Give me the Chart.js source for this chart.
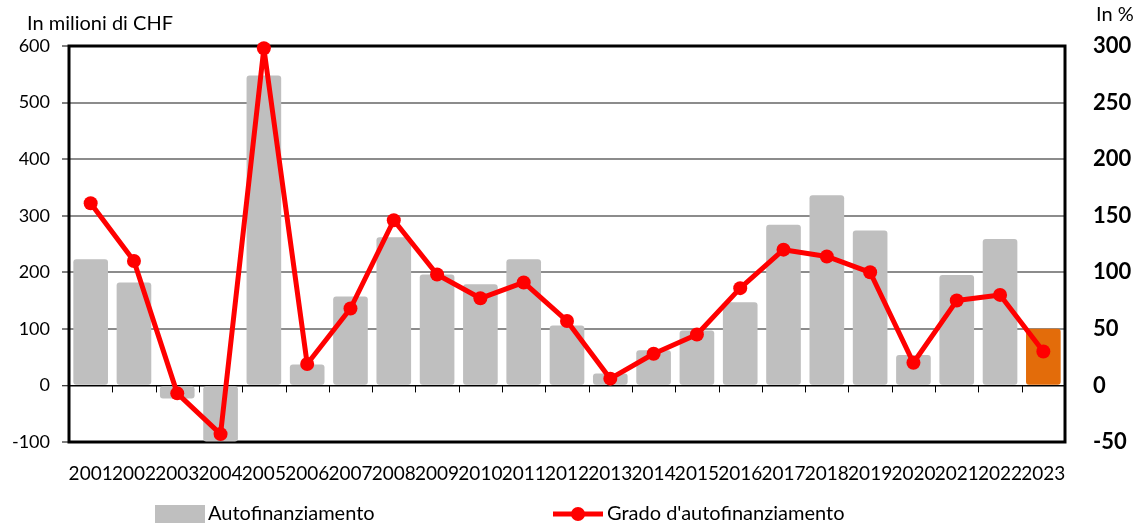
<!DOCTYPE html>
<html><head><meta charset="utf-8">
<script src="https://cdn.jsdelivr.net/npm/chart.js@4.4.0/dist/chart.umd.min.js"></script>
<style>html,body{margin:0;padding:0;background:#fff;overflow:hidden}#wrap{width:1137px;height:523px;position:relative}</style>
</head><body><div id="wrap"><canvas id="c" width="1137" height="523"></canvas></div>
<script>
const years = ['2001','2002','2003','2004','2005','2006','2007','2008','2009','2010','2011','2012','2013','2014','2015','2016','2017','2018','2019','2020','2021','2022','2023'];
const autofinanziamento = [223, 182, -23, -99, 548, 37, 157, 262, 196, 179, 223, 106, 21, 62, 97, 147, 284, 336, 274, 54, 195, 259, 100];
const grado = [161, 110, -7, -43, 298, 19, 68, 146, 98, 77, 91, 57, 6, 28, 45, 86, 120, 114, 100, 20, 75, 80, 30];
const leftAxis = {min: -100, max: 600, step: 100};
const rightAxis = {min: -50, max: 300, step: 50};
const leftTitle = 'In milioni di CHF';
const rightTitle = 'In %';
const barLabel = 'Autofinanziamento';
const lineLabel = "Grado d'autofinanziamento";

const FONT = 'Lato, "Open Sans", sans-serif';
const GRAY = '#bfbfbf';
const ORANGE = '#e36c0a';
const RED = '#ff0000';
const barColors = years.map((y, i) => i === years.length - 1 ? ORANGE : GRAY);

const decor = {
  id: 'decor',
  beforeDatasetsDraw(chart) {
    const {ctx, chartArea: a, scales} = chart;
    const x = scales.x, y = scales.y;
    const zy = y.getPixelForValue(0);
    ctx.save();
    ctx.strokeStyle = '#000';
    ctx.lineWidth = 1;
    for (let i = 1; i < years.length; i++) {
      const px = Math.round((x.getPixelForTick(i - 1) + x.getPixelForTick(i)) / 2) + 0.5;
      ctx.beginPath(); ctx.moveTo(px, zy); ctx.lineTo(px, zy + 7); ctx.stroke();
    }
    ctx.lineWidth = 3;
    ctx.strokeRect(a.left, a.top, a.right - a.left, a.bottom - a.top);
    ctx.restore();
  },
  afterDraw(chart) {
    const {ctx} = chart;
    ctx.save();
    ctx.fillStyle = '#000';
    ctx.textBaseline = 'middle';
    ctx.textAlign = 'left';
    ctx.font = '20px ' + FONT;
    ctx.fillText(leftTitle, 27, 24);
    ctx.fillText(rightTitle, 1096, 15);
    // legend
    ctx.fillStyle = GRAY;
    ctx.fillRect(155, 505, 50, 18);
    ctx.fillStyle = '#000';
    ctx.font = '20px ' + FONT;
    ctx.fillText(barLabel, 208, 514);
    ctx.strokeStyle = RED; ctx.lineWidth = 5;
    ctx.beginPath(); ctx.moveTo(553, 514); ctx.lineTo(603, 514); ctx.stroke();
    ctx.fillStyle = RED;
    ctx.beginPath(); ctx.arc(578, 514, 7, 0, Math.PI * 2); ctx.fill();
    ctx.fillStyle = '#000';
    ctx.fillText(lineLabel, 607, 514);
    ctx.restore();
  }
};

new Chart(document.getElementById('c'), {
  data: {
    labels: years,
    datasets: [
      {type: 'line', label: lineLabel, data: grado, yAxisID: 'y1', order: 0,
       borderColor: RED, backgroundColor: RED, borderWidth: 5, pointRadius: 7,
       borderJoinStyle: 'round', borderCapStyle: 'round',
       pointBorderWidth: 0, pointBackgroundColor: RED, tension: 0, clip: false},
      {type: 'bar', label: barLabel, data: autofinanziamento, yAxisID: 'y', order: 1,
       backgroundColor: barColors, borderRadius: 3, borderSkipped: false,
       categoryPercentage: 0.8, barPercentage: 1}
    ]
  },
  options: {
    responsive: false, animation: false, devicePixelRatio: 1,
    layout: {padding: {top: 46, left: 0, right: 0, bottom: 0}},
    plugins: {legend: {display: false}, tooltip: {enabled: false}},
    scales: {
      x: {
        grid: {display: false}, border: {display: false},
        ticks: {font: {family: FONT, size: 19}, color: '#000', maxRotation: 0, minRotation: 0, autoSkip: false, padding: 12},
        afterFit(s) { s.height = 81; }
      },
      y: {
        position: 'left', min: leftAxis.min, max: leftAxis.max,
        ticks: {stepSize: leftAxis.step, font: {family: FONT, size: 18}, color: '#000', padding: 12},
        grid: {color: c => c.tick && c.tick.value === 0 ? '#000' : '#8c8c8c', lineWidth: c => c.tick && c.tick.value === 0 ? 1.5 : 2,
               tickColor: '#000', tickLength: 7, tickWidth: 1},
        border: {display: false},
        afterFit(s) { s.width = 69; }
      },
      y1: {
        position: 'right', min: rightAxis.min, max: rightAxis.max,
        ticks: {stepSize: rightAxis.step, font: {family: FONT, size: 22, weight: 'bold'}, color: '#000', padding: 20},
        grid: {display: false}, border: {display: false},
        afterFit(s) { s.width = 72; }
      }
    }
  },
  plugins: [decor]
});
</script></body></html>
